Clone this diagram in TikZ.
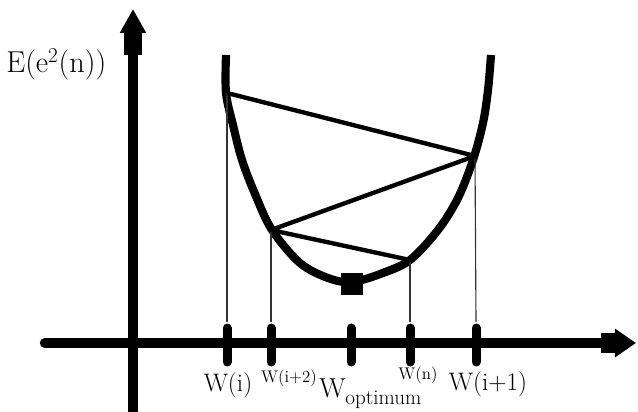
\documentclass[tikz,border=0pt]{standalone}
\usetikzlibrary{arrows.meta}

\begin{document}
\begin{tikzpicture}[
    x=0.025cm, y=-0.025cm,
    axis/.style={
        line width=7.4pt, draw=black,
    },
    curve/.style={
        line width=5.8pt, line join=round, draw=black,
    },
    chord/.style={
        line width=3.1pt, line join=round, draw=black,
    },
    guide/.style={
        line width=0.8pt, draw=black!80,
    },
    tickmark/.style={
        line width=6.4pt, line cap=round, draw=black,
    },
    bigtext/.style={
        font=\fontsize{18}{20}\selectfont, inner sep=0pt,
    },
    smalltext/.style={
        font=\fontsize{12}{14}\selectfont, inner sep=0pt,
    },
]
\useasboundingbox (0,0) rectangle (638,412);

% axes
\draw[axis, -{Rectangle[length=17pt, width=12.5pt, sep=-1pt]Triangle[length=17pt, width=17.5pt]}] (133,412) -- (133,9);
\draw[axis, line cap=round, -{Rectangle[length=11pt, width=14.5pt, sep=-1pt]Triangle[length=15pt, width=19.5pt]}] (45,343) -- (636,343);
\node[anchor=base west, font=\fontsize{21.5}{24}\selectfont, inner sep=0pt] (elabel) at (6,73) {E(e\textsuperscript{2}(n))};

% error surface
\draw[curve] plot[smooth, tension=0.55] coordinates {
    (226,55) (226,93) (233,125) (242,160) (255,194) (272,230)
    (300,263) (328,278) (352,282) (383,273) (410,260) (438,230)
    (458,198) (473,160) (483,123) (488,90) (491,55)};

% points on the curve
\coordinate (wi)   at (227,93);
\coordinate (wi1)  at (475,156);
\coordinate (wi2)  at (271,230);
\coordinate (wn)   at (410,260);
\node[fill=black, minimum size=16pt, inner sep=0pt] (wopt) at (352,284) {};

% ticks on the weight axis
\foreach \name/\xpos in {ti/227, ti2/271, topt/351, tn/410, ti1/476} {
    \coordinate (\name) at (\xpos,322);
    \draw[tickmark] (\xpos,328) -- (\xpos,362);
}

\draw[guide] (wi) -- (ti);
\draw[guide] (wi2) -- (ti2);
\draw[guide] (wn) -- (tn);
\draw[guide] (wi1) -- (ti1);

% steepest descent steps
\draw[chord] (wi) -- (wi1) -- (wi2) -- (wn) -- (wopt);

% weight labels
\node[bigtext] (lwi) at (228,385) {W(i)};
\node[smalltext] (lwi2) at (289,378) {W(i+2)};
\node[anchor=base west, inner sep=0pt] (lwopt) at (319,397)
    {\fontsize{19.5}{21}\selectfont W\fontsize{15}{17}\selectfont\raisebox{-5pt}{optimum}};
\node[smalltext] (lwn) at (418,375) {W(n)};
\node[bigtext] (lwi1) at (488,384) {W(i+1)};
\end{tikzpicture}
\end{document}
